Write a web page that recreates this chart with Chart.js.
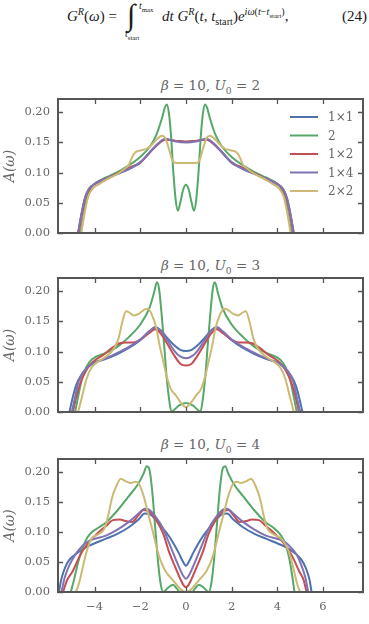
<!DOCTYPE html>
<html>
<head>
<meta charset="utf-8">
<script src="https://cdn.jsdelivr.net/npm/chart.js@4.4.1/dist/chart.umd.min.js"></script>
<style>
  body { margin: 0; width: 369px; height: 624px; background: #fff; position: relative; overflow: hidden; }
  .abs { position: absolute; white-space: nowrap; }
  #eq { font-family: "Liberation Serif", "DejaVu Serif"; font-size: 15px; color: #1a1a1a; line-height: 16px; }
  sup, sub { font-size: 0.68em; line-height: 0; }
  .ttl { left: 58px; width: 305px; text-align: center; font-family: "DejaVu Serif"; font-size: 13.5px; line-height: 16px; color: #666; }
  canvas { position: absolute; left: 0; }
</style>
</head>
<body>
<div id="eq">
  <span class="abs" style="left:67px;top:8px"><i>G</i><sup><i>R</i></sup>(<i>ω</i>) =</span>
  <span class="abs" style="left:127px;top:-3px;font-size:30px;line-height:36px">∫</span>
  <span class="abs" style="left:139px;top:-2px;font-size:10px"><i>t</i><sub>max</sub></span>
  <span class="abs" style="left:125px;top:26px;font-size:10px"><i>t</i><sub>start</sub></span>
  <span class="abs" style="left:162px;top:8px"><i>dt G</i><sup><i>R</i></sup>(<i>t</i>, <i>t</i><sub>start</sub>)<i>e</i><sup><i>iω</i>(<i>t</i>−<i>t</i><sub>start</sub>)</sup>,</span>
  <span class="abs" style="left:342px;top:8px">(24)</span>
</div>
<div class="abs ttl" style="top:77px"><i>β</i> = 10, <i>U</i><sub>0</sub> = 2</div>
<div class="abs ttl" style="top:257px"><i>β</i> = 10, <i>U</i><sub>0</sub> = 3</div>
<div class="abs ttl" style="top:436px"><i>β</i> = 10, <i>U</i><sub>0</sub> = 4</div>
<canvas id="c1"></canvas>
<canvas id="c2"></canvas>
<canvas id="c3"></canvas>
<script>
const seriesLabels = ["1×1", "2", "1×2", "1×4", "2×2"];
const xTicks = [-4, -2, 0, 2, 4, 6];
const yTicks = [0, 0.05, 0.1, 0.15, 0.2];

// [omega, A(omega)], beta = 10, U0 = 2
const u2_1x1 = [[-4.72,0],[-4.58,0.03],[-4.42,0.058],[-4.25,0.073],[-4.0,0.081],[-3.5,0.09],[-3.0,0.098],[-2.5,0.106],[-2.0,0.117],[-1.5,0.137],[-1.2,0.148],[-0.9,0.155],[-0.5,0.153],[0,0.151],[0.5,0.153],[0.9,0.155],[1.2,0.148],[1.5,0.137],[2.0,0.117],[2.5,0.106],[3.0,0.098],[3.5,0.09],[4.0,0.081],[4.25,0.073],[4.42,0.058],[4.58,0.03],[4.72,0]];
const u2_2 = [[-4.62,0],[-4.5,0.025],[-4.35,0.055],[-4.15,0.075],[-3.95,0.083],[-3.5,0.092],[-3.0,0.101],[-2.5,0.112],[-2.0,0.126],[-1.6,0.142],[-1.3,0.162],[-1.05,0.19],[-0.92,0.208],[-0.84,0.213],[-0.75,0.2],[-0.66,0.165],[-0.55,0.1],[-0.45,0.055],[-0.35,0.037],[-0.25,0.05],[-0.12,0.072],[0,0.08],[0.12,0.072],[0.25,0.05],[0.35,0.037],[0.45,0.055],[0.55,0.1],[0.66,0.165],[0.75,0.2],[0.84,0.213],[0.92,0.208],[1.05,0.19],[1.3,0.162],[1.6,0.142],[2.0,0.126],[2.5,0.112],[3.0,0.101],[3.5,0.092],[3.95,0.083],[4.15,0.075],[4.35,0.055],[4.5,0.025],[4.62,0]];
const u2_1x2 = [[-4.7,0],[-4.56,0.03],[-4.4,0.058],[-4.22,0.073],[-4.0,0.081],[-3.5,0.09],[-3.0,0.099],[-2.6,0.106],[-2.3,0.111],[-2.05,0.115],[-1.8,0.124],[-1.5,0.137],[-1.2,0.148],[-0.9,0.155],[-0.5,0.153],[0,0.151],[0.5,0.153],[0.9,0.155],[1.2,0.148],[1.5,0.137],[1.8,0.124],[2.05,0.115],[2.3,0.111],[2.6,0.106],[3.0,0.099],[3.5,0.09],[4.0,0.081],[4.22,0.073],[4.4,0.058],[4.56,0.03],[4.7,0]];
const u2_1x4 = [[-4.72,0],[-4.58,0.03],[-4.42,0.058],[-4.25,0.073],[-4.0,0.081],[-3.5,0.09],[-3.0,0.098],[-2.5,0.106],[-2.0,0.117],[-1.5,0.137],[-1.2,0.149],[-0.9,0.156],[-0.5,0.152],[0,0.15],[0.5,0.152],[0.9,0.156],[1.2,0.149],[1.5,0.137],[2.0,0.117],[2.5,0.106],[3.0,0.098],[3.5,0.09],[4.0,0.081],[4.25,0.073],[4.42,0.058],[4.58,0.03],[4.72,0]];
const u2_2x2 = [[-4.58,0],[-4.45,0.03],[-4.28,0.06],[-4.05,0.075],[-3.8,0.081],[-3.5,0.088],[-3.0,0.098],[-2.7,0.106],[-2.5,0.113],[-2.35,0.126],[-2.2,0.134],[-1.95,0.137],[-1.7,0.14],[-1.4,0.15],[-1.2,0.158],[-1.05,0.161],[-0.9,0.157],[-0.75,0.14],[-0.6,0.121],[-0.45,0.116],[0,0.116],[0.45,0.116],[0.6,0.121],[0.75,0.14],[0.9,0.157],[1.05,0.161],[1.2,0.158],[1.4,0.15],[1.7,0.14],[1.95,0.137],[2.2,0.134],[2.35,0.126],[2.5,0.113],[2.7,0.106],[3.0,0.098],[3.5,0.088],[3.8,0.081],[4.05,0.075],[4.28,0.06],[4.45,0.03],[4.58,0]];

// beta = 10, U0 = 3
const u3_1x1 = [[-5.1,0],[-4.95,0.025],[-4.8,0.045],[-4.6,0.06],[-4.35,0.072],[-4.1,0.08],[-3.5,0.088],[-3.0,0.096],[-2.5,0.106],[-2.0,0.119],[-1.6,0.133],[-1.35,0.14],[-1.1,0.135],[-0.8,0.122],[-0.5,0.11],[-0.25,0.103],[0,0.101],[0.25,0.103],[0.5,0.11],[0.8,0.122],[1.1,0.135],[1.35,0.14],[1.6,0.133],[2.0,0.119],[2.5,0.106],[3.0,0.096],[3.5,0.088],[4.1,0.08],[4.35,0.072],[4.6,0.06],[4.8,0.045],[4.95,0.025],[5.1,0]];
const u3_2 = [[-4.85,0],[-4.72,0.025],[-4.55,0.055],[-4.35,0.075],[-4.12,0.087],[-3.5,0.098],[-3.0,0.108],[-2.5,0.124],[-2.0,0.145],[-1.6,0.172],[-1.4,0.197],[-1.27,0.215],[-1.18,0.205],[-1.06,0.16],[-0.96,0.114],[-0.85,0.06],[-0.75,0.025],[-0.63,0],[-0.5,0.004],[-0.3,0.011],[0,0.015],[0.3,0.011],[0.5,0.004],[0.63,0],[0.75,0.025],[0.85,0.06],[0.96,0.114],[1.06,0.16],[1.18,0.205],[1.27,0.215],[1.4,0.197],[1.6,0.172],[2.0,0.145],[2.5,0.124],[3.0,0.108],[3.5,0.098],[4.12,0.087],[4.35,0.075],[4.55,0.055],[4.72,0.025],[4.85,0]];
const u3_1x2 = [[-4.95,0],[-4.8,0.025],[-4.6,0.05],[-4.35,0.07],[-4.1,0.082],[-3.6,0.095],[-3.2,0.107],[-2.9,0.114],[-2.6,0.115],[-2.35,0.115],[-2.0,0.12],[-1.6,0.131],[-1.35,0.137],[-1.1,0.13],[-0.8,0.112],[-0.5,0.093],[-0.25,0.08],[0,0.077],[0.25,0.08],[0.5,0.093],[0.8,0.112],[1.1,0.13],[1.35,0.137],[1.6,0.131],[2.0,0.12],[2.35,0.115],[2.6,0.115],[2.9,0.114],[3.2,0.107],[3.6,0.095],[4.1,0.082],[4.35,0.07],[4.6,0.05],[4.8,0.025],[4.95,0]];
const u3_1x4 = [[-5.0,0],[-4.85,0.025],[-4.7,0.05],[-4.45,0.068],[-4.1,0.08],[-3.5,0.089],[-3.0,0.098],[-2.5,0.108],[-2.0,0.12],[-1.6,0.134],[-1.35,0.141],[-1.1,0.135],[-0.8,0.118],[-0.5,0.101],[-0.25,0.092],[0,0.089],[0.25,0.092],[0.5,0.101],[0.8,0.118],[1.1,0.135],[1.35,0.141],[1.6,0.134],[2.0,0.12],[2.5,0.108],[3.0,0.098],[3.5,0.089],[4.1,0.08],[4.45,0.068],[4.7,0.05],[4.85,0.025],[5.0,0]];
const u3_2x2 = [[-4.72,0],[-4.55,0.025],[-4.35,0.055],[-4.12,0.074],[-3.9,0.082],[-3.5,0.092],[-3.15,0.105],[-2.95,0.122],[-2.78,0.15],[-2.62,0.167],[-2.45,0.164],[-2.3,0.16],[-2.05,0.163],[-1.8,0.17],[-1.66,0.171],[-1.5,0.162],[-1.3,0.14],[-1.15,0.11],[-1.0,0.085],[-0.85,0.06],[-0.66,0.038],[-0.45,0.028],[-0.25,0.017],[0,0.008],[0.25,0.017],[0.45,0.028],[0.66,0.038],[0.85,0.06],[1.0,0.085],[1.15,0.11],[1.3,0.14],[1.5,0.162],[1.66,0.171],[1.8,0.17],[2.05,0.163],[2.3,0.16],[2.45,0.164],[2.62,0.167],[2.78,0.15],[2.95,0.122],[3.15,0.105],[3.5,0.092],[3.9,0.082],[4.12,0.074],[4.35,0.055],[4.55,0.025],[4.72,0]];

// beta = 10, U0 = 4
const u4_1x1 = [[-5.56,0],[-5.45,0.022],[-5.3,0.04],[-5.1,0.054],[-4.8,0.064],[-4.5,0.072],[-4.2,0.078],[-3.5,0.089],[-3.0,0.097],[-2.5,0.108],[-2.1,0.12],[-1.8,0.131],[-1.6,0.13],[-1.3,0.12],[-1.0,0.106],[-0.74,0.093],[-0.5,0.078],[-0.3,0.064],[-0.15,0.052],[0,0.044],[0.15,0.052],[0.3,0.064],[0.5,0.078],[0.74,0.093],[1.0,0.106],[1.3,0.12],[1.6,0.13],[1.8,0.131],[2.1,0.12],[2.5,0.108],[3.0,0.097],[3.5,0.089],[4.2,0.078],[4.5,0.072],[4.8,0.064],[5.05,0.054],[5.25,0.04],[5.4,0.022],[5.5,0]];
const u4_2 = [[-5.04,0],[-4.9,0.02],[-4.75,0.045],[-4.6,0.065],[-4.4,0.085],[-4.2,0.097],[-3.8,0.108],[-3.5,0.116],[-3.0,0.136],[-2.5,0.16],[-2.1,0.18],[-1.85,0.198],[-1.72,0.21],[-1.6,0.205],[-1.48,0.17],[-1.35,0.11],[-1.22,0.05],[-1.1,0.012],[-1.0,0],[-0.78,0.007],[-0.56,0.012],[-0.4,0.006],[-0.26,0],[0,0],[0.26,0],[0.4,0.006],[0.56,0.012],[0.78,0.007],[1.0,0],[1.1,0.012],[1.22,0.05],[1.35,0.11],[1.48,0.17],[1.6,0.205],[1.72,0.21],[1.85,0.198],[2.1,0.18],[2.5,0.16],[3.0,0.136],[3.5,0.116],[3.8,0.108],[4.15,0.095],[4.35,0.08],[4.5,0.06],[4.62,0.035],[4.75,0]];
const u4_1x2 = [[-5.38,0],[-5.2,0.02],[-4.95,0.035],[-4.75,0.052],[-4.5,0.07],[-4.25,0.083],[-3.9,0.097],[-3.5,0.11],[-3.2,0.12],[-2.9,0.121],[-2.6,0.118],[-2.35,0.117],[-2.1,0.127],[-1.85,0.137],[-1.6,0.134],[-1.3,0.12],[-1.0,0.098],[-0.74,0.067],[-0.45,0.04],[-0.25,0.022],[-0.1,0.011],[0,0.008],[0.1,0.011],[0.25,0.022],[0.45,0.04],[0.74,0.067],[1.0,0.098],[1.3,0.12],[1.6,0.134],[1.85,0.137],[2.1,0.127],[2.35,0.117],[2.6,0.118],[2.9,0.121],[3.2,0.12],[3.5,0.11],[3.9,0.097],[4.25,0.083],[4.5,0.07],[4.75,0.052],[4.95,0.035],[5.15,0.02],[5.28,0]];
const u4_1x4 = [[-5.45,0],[-5.3,0.025],[-5.1,0.045],[-4.85,0.062],[-4.5,0.078],[-4.2,0.086],[-3.5,0.094],[-3.0,0.104],[-2.5,0.117],[-2.1,0.13],[-1.8,0.139],[-1.6,0.137],[-1.3,0.124],[-1.0,0.106],[-0.74,0.082],[-0.45,0.055],[-0.25,0.037],[-0.1,0.026],[0,0.022],[0.1,0.026],[0.25,0.037],[0.45,0.055],[0.74,0.082],[1.0,0.106],[1.3,0.124],[1.6,0.137],[1.8,0.139],[2.1,0.13],[2.5,0.117],[3.0,0.104],[3.5,0.094],[4.2,0.086],[4.5,0.078],[4.85,0.062],[5.05,0.045],[5.22,0.025],[5.35,0]];
const u4_2x2 = [[-4.82,0],[-4.7,0.012],[-4.55,0.035],[-4.4,0.06],[-4.15,0.088],[-3.85,0.096],[-3.55,0.107],[-3.4,0.128],[-3.25,0.155],[-3.08,0.174],[-2.85,0.189],[-2.65,0.185],[-2.43,0.182],[-2.2,0.184],[-2.05,0.18],[-1.85,0.16],[-1.65,0.13],[-1.47,0.104],[-1.18,0.06],[-0.9,0.035],[-0.6,0.021],[-0.4,0.012],[-0.22,0.004],[0,0],[0.22,0.004],[0.4,0.012],[0.6,0.021],[0.9,0.035],[1.18,0.06],[1.47,0.104],[1.65,0.13],[1.85,0.16],[2.05,0.18],[2.2,0.184],[2.43,0.182],[2.65,0.185],[2.85,0.189],[3.08,0.174],[3.25,0.155],[3.4,0.128],[3.55,0.107],[3.85,0.096],[4.2,0.088],[4.5,0.068],[4.7,0.04],[4.88,0.012],[5.0,0]];

const colors = ["#4C72B0", "#55A868", "#C44E52", "#8172B2", "#CCB974"];
const axisColor = "#555555";
const textColor = "#666666";
const serif = "'DejaVu Serif'";

// box with inward ticks on all four sides, drawn over the lines like matplotlib spines
const frame = {
  id: "frame",
  afterDatasetsDraw(chart) {
    const { ctx, chartArea: a, scales: { x, y } } = chart;
    ctx.save();
    ctx.strokeStyle = axisColor;
    ctx.lineWidth = 1.3;
    ctx.beginPath();
    x.ticks.forEach(t => {
      const p = Math.round(x.getPixelForValue(t.value)) + 0.5;
      ctx.moveTo(p, a.bottom); ctx.lineTo(p, a.bottom - 5);
      ctx.moveTo(p, a.top); ctx.lineTo(p, a.top + 5);
    });
    y.ticks.forEach(t => {
      const p = Math.round(y.getPixelForValue(t.value)) + 0.5;
      ctx.moveTo(a.left, p); ctx.lineTo(a.left + 5, p);
      ctx.moveTo(a.right, p); ctx.lineTo(a.right - 5, p);
    });
    ctx.stroke();
    ctx.lineWidth = 2;
    ctx.strokeRect(a.left, a.top, a.width, a.height);
    ctx.restore();
  }
};

const legendBox = {
  id: "legendBox",
  afterDraw(chart) {
    if (!chart.options.plugins.legendBox.show) return;
    const { ctx, chartArea: a } = chart;
    ctx.save();
    ctx.font = "12px " + serif;
    ctx.textBaseline = "middle";
    chart.data.datasets.forEach((ds, i) => {
      const yy = a.top + 18 + i * 18.5;
      ctx.strokeStyle = ds.borderColor;
      ctx.lineWidth = 2;
      ctx.beginPath();
      ctx.moveTo(a.right - 73, yy); ctx.lineTo(a.right - 45, yy);
      ctx.stroke();
      ctx.fillStyle = textColor;
      ctx.fillText(ds.label, a.right - 35, yy + 1);
    });
    ctx.restore();
  }
};

function makePanel(id, areaTop, areaBottom, series, showX, showLegend) {
  const padTop = 4, padBottom = 10, xH = showX ? 26 : 0;
  const cv = document.getElementById(id);
  cv.width = 369;
  cv.height = areaBottom - areaTop + padTop + (showX ? 2 : padBottom) + xH;
  cv.style.top = (areaTop - padTop) + "px";
  new Chart(cv, {
    type: "line",
    data: {
      datasets: series.map((s, i) => ({
        label: seriesLabels[i],
        data: s.map(([x, y]) => ({ x, y })),
        borderColor: colors[i],
        borderWidth: 2,
        pointRadius: 0,
        fill: false,
        cubicInterpolationMode: "monotone",
        order: series.length - i,
      })),
    },
    options: {
      responsive: false,
      animation: false,
      layout: { padding: { top: padTop, right: 6, bottom: showX ? 2 : padBottom, left: 0 } },
      plugins: { legend: { display: false }, tooltip: { enabled: false }, legendBox: { show: showLegend } },
      scales: {
        x: {
          type: "linear", min: -5.6, max: 7.75,
          grid: { display: false, drawTicks: false },
          border: { display: false },
          afterBuildTicks: s => { s.ticks = xTicks.map(v => ({ value: v })); },
          afterFit: s => { s.height = xH; s.paddingLeft = 0; s.paddingRight = 0; },
          ticks: {
            display: showX, padding: 8, color: textColor,
            font: { family: serif, size: 11.5 },
            callback: v => (v < 0 ? "\u2212" + Math.abs(v) : String(v)),
          },
        },
        y: {
          min: 0, max: 0.222,
          grid: { display: false, drawTicks: false },
          border: { display: false },
          afterBuildTicks: s => { s.ticks = yTicks.map(v => ({ value: v })); },
          afterFit: s => { s.width = 58; s.paddingTop = 0; s.paddingBottom = 0; },
          ticks: { padding: 8, color: textColor, font: { family: serif, size: 11.5 }, callback: v => v.toFixed(2) },
          title: { display: true, text: "A(ω)", color: textColor, padding: { top: 2, bottom: 0 }, font: { family: serif, size: 14, style: "italic" } },
        },
      },
    },
    plugins: [frame, legendBox],
  });
}

makePanel("c1", 99, 233, [u2_1x1, u2_2, u2_1x2, u2_1x4, u2_2x2], false, true);
makePanel("c2", 278, 412, [u3_1x1, u3_2, u3_1x2, u3_1x4, u3_2x2], false, false);
makePanel("c3", 459, 592, [u4_1x1, u4_2, u4_1x2, u4_1x4, u4_2x2], true, false);
</script>
</body>
</html>
